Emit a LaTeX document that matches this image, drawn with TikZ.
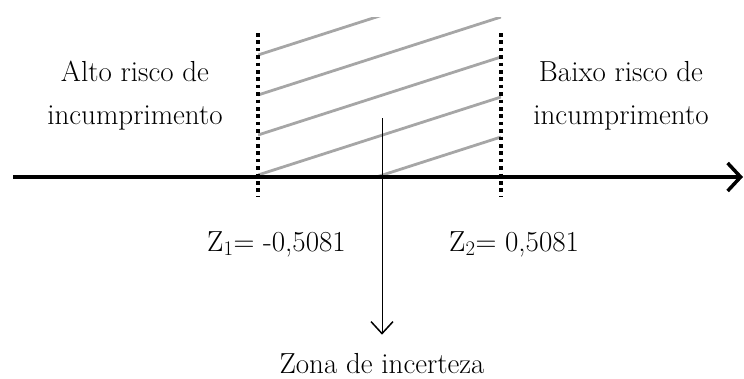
\documentclass[tikz,border=0pt]{standalone}
\usepackage{fontspec}
\usepackage{tikz}
\usetikzlibrary{positioning,arrows.meta}

\begin{document}
\begin{tikzpicture}[
    x=1pt, y=-1pt,
    txt/.style={
        inner sep=0pt,
        align=center,
        font=\fontsize{29}{43}\selectfont
    },
    axis/.style={
        line width=3.5pt,
        -{Straight Barb[length=13pt,width=28pt]}
    },
    limit/.style={
        line width=3.5pt,
        dash pattern=on 3.6pt off 3.8pt
    },
    hatch/.style={
        line width=2.8pt,
        gray!70
    },
    pointer/.style={
        line width=1pt,
        -{Straight Barb[length=12pt,width=22pt,line width=1.5pt]}
    }
]
\useasboundingbox (0,0) rectangle (744,378);

% axis and limits
\coordinate (start) at (13,177);
\coordinate (end) at (743,177);
\coordinate (l1top) at (258,33);
\coordinate (l1bot) at (258,197);
\coordinate (l2top) at (501,33);
\coordinate (l2bot) at (501,197);
\coordinate (mid) at (382,118);

% uncertainty zone
\begin{scope}
\clip (l1top |- 0,17) rectangle (l2top |- 0,175);
\foreach \k in {0,...,4}
    \draw[hatch] (258,{55+40*\k}) -- (501,{-23+40*\k});
\end{scope}

\draw[limit] (l1top) -- (l1bot);
\draw[limit] (l2top) -- (l2bot);
\draw[axis] (start) -- (end);

\node[txt] (alto) at (135,96)
{Alto risco de\\incumprimento};

\node[txt] (baixo) at (621,96)
{Baixo risco de\\incumprimento};

\node[txt, anchor=base west] (z1) at (207,251)
{Z$_1$= -0,5081};

\node[txt, anchor=base west] (z2) at (449,251)
{Z$_2$= 0,5081};

\node[txt, anchor=base] (zona) at (382,373)
{Zona de incerteza};

\draw[pointer, shorten >=18pt] (mid) -- (zona.north);

\end{tikzpicture}
\end{document}
